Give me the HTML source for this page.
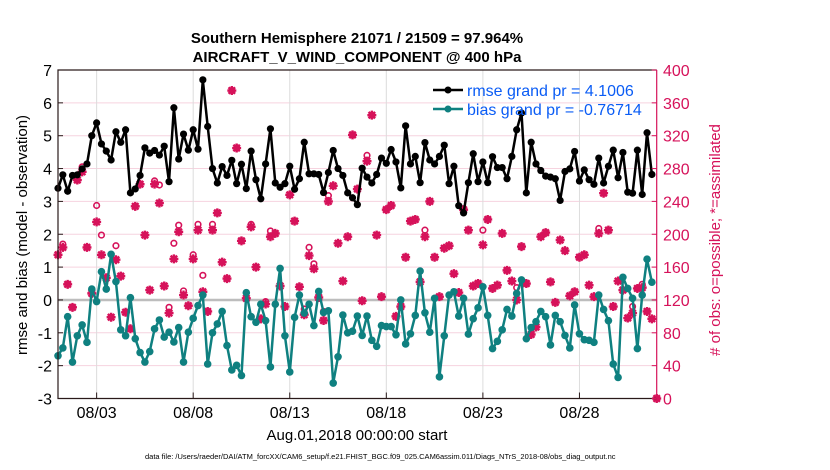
<!DOCTYPE html>
<html><head><meta charset="utf-8"><style>
html,body{margin:0;padding:0;background:#fff;}
svg{display:block;font-family:"Liberation Sans",Arial,sans-serif;}
</style></head><body>
<svg id="chart" width="830" height="470" viewBox="0 0 830 470" xmlns="http://www.w3.org/2000/svg">
<text x="357" y="43" font-size="15" font-weight="bold" text-anchor="middle">Southern Hemisphere 21071 / 21509 = 97.964%</text>
<text x="357" y="62" font-size="15" font-weight="bold" text-anchor="middle">AIRCRAFT_V_WIND_COMPONENT @ 400 hPa</text>
<g id="grid"></g>
<g id="marks"></g>
<g id="axes"></g>
<text transform="translate(27,235) rotate(-90)" font-size="15" text-anchor="middle">rmse and bias (model - observation)</text>
<text transform="translate(720,240) rotate(-90)" font-size="15" text-anchor="middle" fill="#d6125a"># of obs: o=possible; *=assimilated</text>
<text x="357" y="440" font-size="15" text-anchor="middle">Aug.01,2018 00:00:00 start</text>
<text x="145" y="459" font-size="7.5">data file: /Users/raeder/DAI/ATM_forcXX/CAM6_setup/f.e21.FHIST_BGC.f09_025.CAM6assim.011/Diags_NTrS_2018-08/obs_diag_output.nc</text>
<g>
<line x1="433" y1="90" x2="463" y2="90" stroke="#000" stroke-width="2.5"/>
<circle cx="448" cy="90" r="3.5" fill="#000"/>
<text x="467" y="96" font-size="16" fill="#0a5cf5">rmse grand pr = 4.1006</text>
<line x1="433" y1="109" x2="463" y2="109" stroke="#0f8080" stroke-width="2.5"/>
<circle cx="448" cy="109" r="3.5" fill="#0f8080"/>
<text x="467" y="115" font-size="16" fill="#0a5cf5">bias grand pr = -0.76714</text>
</g>
</svg>
<script>
const rmse=[3.40,3.81,3.31,3.79,3.81,3.99,4.14,5.0,5.39,4.75,4.53,4.26,5.12,4.8,5.18,3.26,3.38,3.79,4.63,4.47,4.55,4.41,4.68,3.6,5.85,4.29,5.05,4.56,5.18,4.59,6.70,5.28,4.0,3.56,4.06,3.79,4.25,3.54,4.13,3.39,4.53,3.66,3.08,4.14,5.21,3.56,3.43,3.54,4.07,3.37,3.69,4.8,3.84,3.84,3.82,3.27,3.88,4.55,4.0,3.79,3.26,3.11,2.90,
4.01,3.74,3.56,3.82,4.32,4.16,4.58,4.2,3.41,5.30,4.14,4.37,3.57,4.79,4.26,4.14,4.37,4.71,3.54,4.07,2.87,2.65,3.57,4.45,3.6,4.2,3.57,4.36,4.03,4.03,3.69,4.37,5.18,5.69,3.26,4.8,4.14,3.94,3.77,3.74,3.69,3.03,3.91,3.99,4.52,3.62,3.96,3.66,3.52,4.32,3.56,4.07,4.56,3.72,4.49,3.28,3.25,4.56,3.21,5.09,3.82];
const bias=[-1.70,-1.46,-0.51,-1.89,-1.09,-0.76,-1.29,0.33,-0.05,0.86,0.33,1.39,0.56,-0.91,-1.09,0.07,-1.18,-1.60,-1.89,-1.57,-0.88,-0.61,-1.13,-0.98,-1.28,-0.84,-1.89,-0.98,-0.56,-0.17,0.15,-1.95,-1.0,-0.73,-0.35,-1.39,-2.13,-1.99,-2.30,0.22,-0.51,-0.68,-0.13,-0.63,-2.04,-0.13,0.96,-1.09,-2.19,-0.53,0.15,-0.40,-0.13,-0.78,0.26,-0.38,-0.33,-2.53,-1.73,-0.46,-1.0,-0.95,-0.49,
-1.08,-0.49,-1.23,-1.41,-0.78,-0.81,-0.81,-1.06,0,-1.34,-1.03,-0.47,0.88,-0.39,-0.98,0.05,-2.34,-1.09,0.15,0.25,-0.49,0.05,-1.04,-0.57,-0.24,0.40,-0.47,-1.48,-1.26,-0.91,-0.29,-0.49,0.20,0.61,-1.18,-0.84,-0.66,-0.35,-0.51,-1.37,-0.47,-0.66,-1.08,-1.46,-0.15,-1.03,-1.21,-1.23,-1.29,0.15,-0.29,-0.63,-1.95,-2.36,0.69,0.35,0.05,-1.48,0.15,1.24,0.54];
const nAssim=[175,184,139,111,266,276,184,128,215,175,147,99,169,149,105,85,234,261,199,132,261,238,137,104,170,203,126,113,170,205,130,106,205,226,166,146,375,305,192,122,209,160,97,115,197,201,137,112,248,216,136,102,174,158,123,95,240,259,189,143,197,321,255,119,289,345,199,124,230,235,100,112,172,216,218,142,197,240,172,124,183,186,152,129,230,205,137,140,187,218,134,138,201,156,143,120,185,140,78,87,197,202,142,117,193,180,125,130,172,175,138,124,201,250,205,112,143,132,98,104,134,135,106,97,0];
const nPoss=[175,188,139,111,266,282,184,128,235,199,147,99,186,149,105,85,234,261,199,132,265,260,137,111,189,211,131,113,175,212,150,106,212,226,166,146,375,305,192,122,212,160,97,118,204,201,137,112,248,216,136,109,184,164,123,106,247,259,189,143,197,321,255,119,296,345,199,124,230,235,100,112,172,216,218,142,205,240,172,124,183,186,152,129,230,205,137,140,205,218,134,138,201,156,143,135,185,140,78,87,197,202,142,117,193,180,125,130,172,175,138,124,207,250,205,112,143,132,98,112,134,139,106,97,0];
const xTickDays=[3,8,13,18,23,28];
const xTickLabels=["08/03","08/08","08/13","08/18","08/23","08/28"];
const leftTicks=[-3,-2,-1,0,1,2,3,4,5,6,7];
const rightTicks=[0,40,80,120,160,200,240,280,320,360,400];

const X0=58,X1=656.7,YT=70,YB=398.5;
const dayMin=1,dayMax=32;
const xS=d=>X0+(d-dayMin)/(dayMax-dayMin)*(X1-X0);
const yL=v=>YB-(v+3)/10*(YB-YT);
const yR=v=>YB-v/400*(YB-YT);
const dayOf=i=>1+i*0.25;
const NS="http://www.w3.org/2000/svg";
const RED="#d6125a",TEAL="#0f8080";
function mk(parent,tag,attrs){const e=document.createElementNS(NS,tag);for(const k in attrs)e.setAttribute(k,attrs[k]);parent.appendChild(e);return e;}
const grid=document.getElementById('grid'),marks=document.getElementById('marks'),axes=document.getElementById('axes');

rightTicks.forEach(v=>{const l=mk(grid,'line',{x1:X0,x2:X1,y1:yR(v),y2:yR(v),stroke:'#f6d3df','stroke-width':1});

});
xTickDays.forEach(d=>{const l=mk(grid,'line',{x1:xS(d),x2:xS(d),y1:YT,y2:YB,stroke:'#dcdcdc','stroke-width':1});

});
const zl=mk(grid,'line',{x1:X0,x2:X1,y1:yL(0),y2:yL(0),stroke:'#bdbdbd','stroke-width':2.5});



function star(g,cx,cy){const s=4.5;
const p=mk(g,'path',{d:`M${cx-s},${cy}H${cx+s}M${cx},${cy-s}V${cy+s}M${cx-s*0.72},${cy-s*0.72}L${cx+s*0.72},${cy+s*0.72}M${cx-s*0.72},${cy+s*0.72}L${cx+s*0.72},${cy-s*0.72}`,stroke:RED,'stroke-width':2.4,fill:'none'});

}
nAssim.forEach((v,i)=>{star(marks,xS(dayOf(i)),yR(v));});
nPoss.forEach((v,i)=>{const c=mk(marks,'circle',{cx:xS(dayOf(i)),cy:yR(v),r:2.8,fill:'none',stroke:RED,'stroke-width':1.6});

});

function series(arr,color,name,r){
const pts=arr.map((v,i)=>xS(dayOf(i)).toFixed(1)+','+yL(v).toFixed(1)).join(' ');
const pl=mk(marks,'polyline',{points:pts,fill:'none',stroke:color,'stroke-width':2.5,'stroke-linejoin':'round'});


arr.forEach((v,i)=>{const c=mk(marks,'circle',{cx:xS(dayOf(i)),cy:yL(v),r:r,fill:color});

});}
series(bias,TEAL,'bias',3.8);
series(rmse,'#000','rmse',3.6);

const ab=mk(axes,'path',{d:`M${X1},${YT}H${X0}V${YB}H${X1}`,fill:'none',stroke:'#2a1a1a','stroke-width':1.2});


const ra=mk(axes,'line',{x1:X1,x2:X1,y1:YT,y2:YB,stroke:RED,'stroke-width':1.2});


leftTicks.forEach(v=>{const t=mk(axes,'text',{x:52,y:yL(v)+6,'font-size':16,'text-anchor':'end'});t.textContent=v;


mk(axes,'line',{x1:X0,x2:X0+5,y1:yL(v),y2:yL(v),stroke:'#2a1a1a'});});
rightTicks.forEach(v=>{const t=mk(axes,'text',{x:663,y:yR(v)+6,'font-size':16,fill:RED});t.textContent=v;


mk(axes,'line',{x1:X1-5,x2:X1,y1:yR(v),y2:yR(v),stroke:RED});});
xTickDays.forEach((d,k)=>{mk(axes,'line',{x1:xS(d),x2:xS(d),y1:YB,y2:YB-6,stroke:'#2a1a1a'});
const t=mk(axes,'text',{x:xS(d),y:418,'font-size':16,'text-anchor':'middle'});t.textContent=xTickLabels[k];

});
</script>
</body></html>
